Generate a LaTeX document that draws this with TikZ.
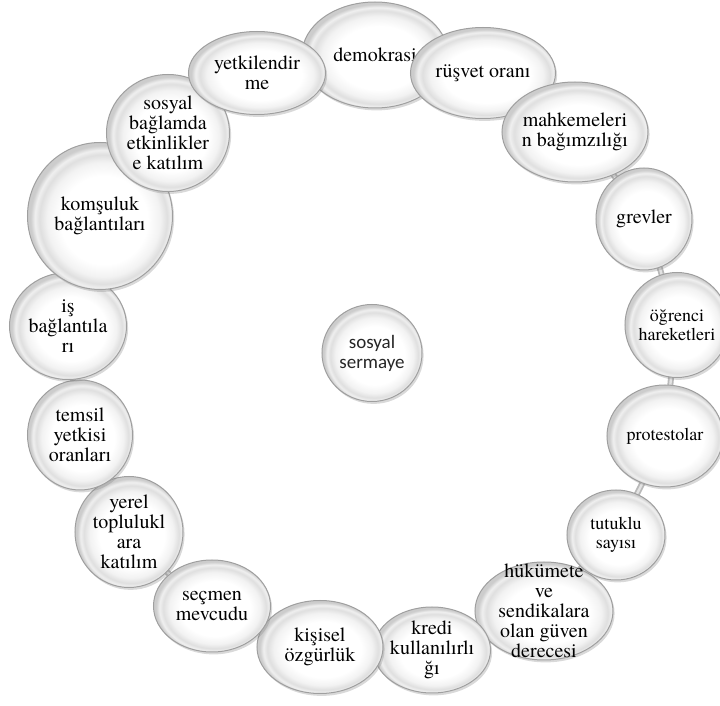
\documentclass[tikz,border=0pt]{standalone}
\usepackage{fontspec}
\setmainfont{texgyretermes}[Extension=.otf, UprightFont=*-regular, BoldFont=*-bold, ItalicFont=*-italic, BoldItalicFont=*-bolditalic]
\newfontfamily\hubfont{Carlito}
\usetikzlibrary{shapes.geometric,shadows}

\pgfdeclareradialshading{beadshade}{\pgfpoint{2bp}{-2bp}}{%
  color(0bp)=(white); color(15bp)=(white); color(19.5bp)=(gray!10);
  color(22bp)=(gray!25); color(23.5bp)=(gray!12); color(25bp)=(gray!40); color(50bp)=(gray!40)}

\tikzset{
  bead/.style={ellipse, draw=gray!75, line width=0.5pt, shade, shading=beadshade,
    drop shadow={opacity=0.3, shadow xshift=0.8pt, shadow yshift=-1.2pt}, inner sep=0pt},
  beadtext/.style={align=center, inner sep=0pt, text=black, font=\rmfamily\fontsize{10}{10}\selectfont},
  smalltext/.style={beadtext, font=\rmfamily\fontsize{9}{9.5}\selectfont},
  hubtext/.style={align=center, inner sep=0pt, text=black!85, font=\hubfont\fontsize{9.5}{10}\selectfont},
}

\begin{document}
\begin{tikzpicture}[x=0.5pt, y=-0.5pt]
\useasboundingbox (0,0) rectangle (720,706);

% Hub
\node[bead, minimum width=50pt, minimum height=48.5pt, label={[hubtext]center:sosyal\\sermaye}] (hub) at (372,353) {};

% Ring
\draw[gray!55, line width=3pt] (hub.center) circle[radius=150pt];
\draw[gray!22, line width=1.2pt] (hub.center) circle[radius=150pt];

% Beads, clockwise from the top
\node[bead, minimum width=73pt, minimum height=53pt, label={[beadtext]center:demokrasi}] (demo) at (375,55) {};
\node[bead, minimum width=72.5pt, minimum height=45.5pt, label={[beadtext]center:rüşvet oranı}] (rusvet) at (483,73) {};
\node[bead, minimum width=73pt, minimum height=50pt, label={[beadtext]center:mahkemeleri\\n bağımzılığı}] (mahkeme) at (575,132) {};
\node[bead, minimum width=48pt, minimum height=51pt, label={[beadtext]center:grevler}] (grev) at (644,219) {};
\node[bead, minimum width=52pt, minimum height=52.5pt, label={[smalltext]center:öğrenci\\hareketleri}] (ogrenci) at (677,325) {};
\node[bead, minimum width=58pt, minimum height=51pt, label={[smalltext]center:protestolar}] (protesto) at (665,436) {};
\node[bead, minimum width=49pt, minimum height=45pt, label={[smalltext]center:tutuklu\\sayısı}] (tutuklu) at (616,535) {};
\node[bead, minimum width=69pt, minimum height=49pt, label={[beadtext]center:hükümete\\ve\\sendikalara\\olan güven\\derecesi}] (hukumet) at (544,611) {};
\node[bead, minimum width=58.5pt, minimum height=43pt, label={[beadtext]center:kredi\\kullanılırlı\\ğı}] (kredi) at (432,650) {};
\node[bead, minimum width=63pt, minimum height=46.5pt, label={[beadtext]center:kişisel\\özgürlük}] (kisisel) at (320,647) {};
\node[bead, minimum width=58.5pt, minimum height=46pt, label={[beadtext]center:seçmen\\mevcudu}] (secmen) at (212,606) {};
\node[bead, minimum width=54pt, minimum height=55.5pt, label={[beadtext]center:yerel\\toplulukl\\ara\\katılım}] (yerel) at (129,532) {};
\node[bead, minimum width=52.5pt, minimum height=55pt, label={[beadtext]center:temsil\\yetkisi\\oranları}] (temsil) at (80,435) {};
\node[bead, minimum width=58.5pt, minimum height=53.5pt, label={[beadtext]center:iş\\bağlantıla\\rı}] (is) at (68,326) {};
\node[bead, minimum width=72.5pt, minimum height=73.5pt, label={[beadtext]center:komşuluk\\bağlantıları}] (komsu) at (100,216) {};
\node[bead, minimum width=61.5pt, minimum height=58.5pt, label={[beadtext]center:sosyal\\bağlamda\\etkinlikler\\e katılım}] (sosyal) at (168,133) {};
\node[bead, minimum width=68.5pt, minimum height=41.5pt, label={[beadtext]center:yetkilendir\\me}] (yetki) at (257,73) {};
\end{tikzpicture}
\end{document}
